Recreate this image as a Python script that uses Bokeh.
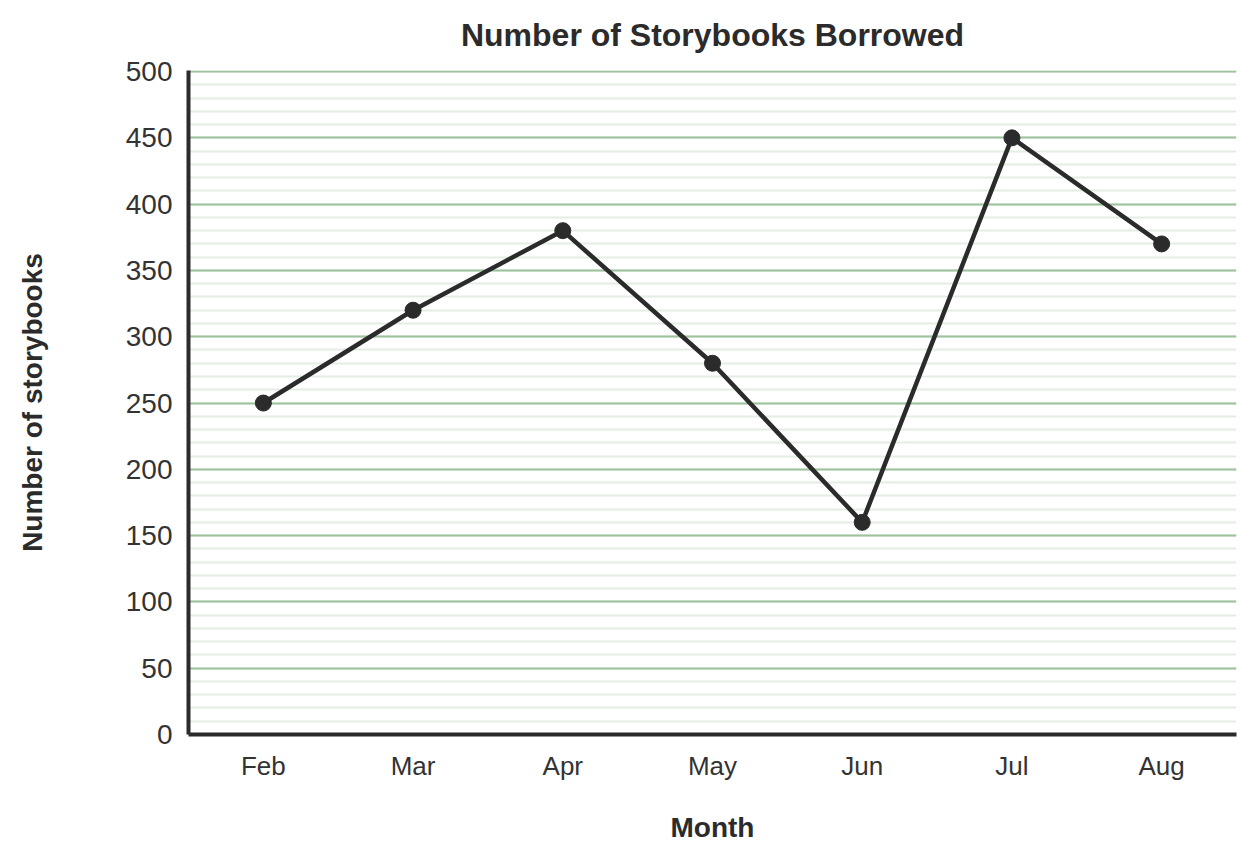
from bokeh.plotting import figure
from bokeh.models import Range1d, FactorRange, SingleIntervalTicker
from bokeh.embed import file_html
from bokeh.resources import INLINE

months = ["Feb", "Mar", "Apr", "May", "Jun", "Jul", "Aug"]
borrowed = [250, 320, 380, 280, 160, 450, 370]
title_text = "Number of Storybooks Borrowed"
x_title = "Month"
y_title = "Number of storybooks"

FONT = "Liberation Sans"
DARK = "#2b2b2b"

p = figure(width=1248, height=847, x_range=FactorRange(*months), y_range=Range1d(0, 500.8),
           output_backend="svg", toolbar_location=None,
           min_border_left=188, min_border_right=12, min_border_top=70, min_border_bottom=113)

p.title.text = title_text
p.title.align = "center"
p.title.vertical_align = "top"
p.title.text_font = FONT
p.title.text_font_size = "32px"
p.title.text_font_style = "bold"
p.title.text_color = DARK
p.title.standoff = 32

p.outline_line_color = None
p.background_fill_color = "white"

ticker = SingleIntervalTicker(interval=50, num_minor_ticks=5)
p.yaxis.ticker = ticker
p.ygrid.ticker = ticker
p.ygrid.grid_line_color = "#9dc29d"
p.ygrid.grid_line_width = 2
p.ygrid.minor_grid_line_color = "#e4ede4"
p.ygrid.minor_grid_line_width = 2
p.xgrid.grid_line_color = None

for ax in (p.xaxis, p.yaxis):
    ax.axis_line_color = DARK
    ax.axis_line_width = 4
    ax.major_tick_line_color = None
    ax.minor_tick_line_color = None
    ax.major_tick_out = 0
    ax.major_tick_in = 0
    ax.minor_tick_out = 0
    ax.minor_tick_in = 0
    ax.major_label_text_font = FONT
    ax.major_label_text_color = "#333333"
    ax.axis_label_text_font = FONT
    ax.axis_label_text_font_style = "bold"
    ax.axis_label_text_font_size = "28px"
    ax.axis_label_text_color = DARK

p.xaxis.major_label_text_font_size = "26px"
p.yaxis.major_label_text_font_size = "28px"
p.xaxis.major_label_standoff = 16
p.yaxis.major_label_standoff = 16
p.xaxis.axis_label = x_title
p.yaxis.axis_label = y_title
p.xaxis.axis_label_standoff = 28
p.yaxis.axis_label_standoff = 75

p.line(months, borrowed, line_color=DARK, line_width=4.5)
p.scatter(months, borrowed, size=16, fill_color=DARK, line_color=DARK)

open("out.html", "w").write(file_html(p, INLINE))
